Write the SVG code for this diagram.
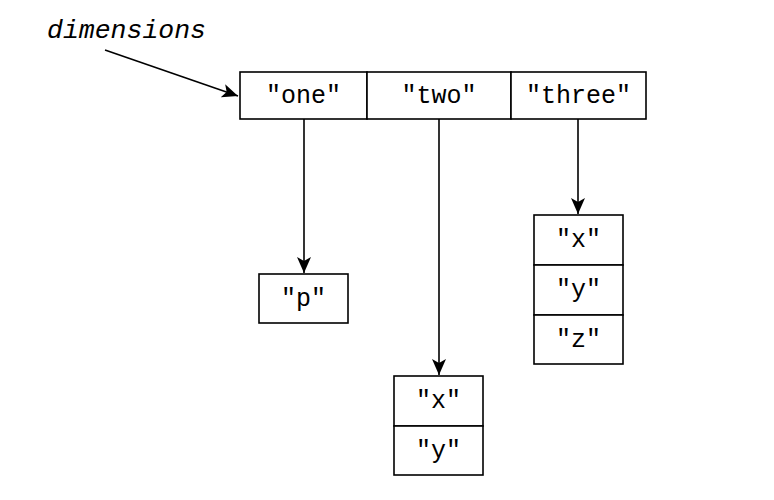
<svg xmlns="http://www.w3.org/2000/svg" width="774" height="500" viewBox="0 0 774 500">
<style>
.box{fill:#fff;stroke:#000;stroke-width:1.6}
.t{font-family:"Liberation Mono",monospace;font-size:25px;text-anchor:middle;fill:#000}
.lbl{font-family:"Liberation Mono",monospace;font-size:26.5px;font-style:italic;fill:#000}
.c{stroke:#000;stroke-width:1.6;fill:none;marker-end:url(#ah)}
</style>
<defs>
<marker id="ah" markerUnits="userSpaceOnUse" markerWidth="18" markerHeight="14" refX="16" refY="7" orient="auto">
<path d="M0,0 L16,7 L0,14 L4,7 Z" fill="#000"/>
</marker>
</defs>
<rect width="774" height="500" fill="#fff"/>
<g id="label-dimensions"><text class="lbl" x="47" y="38">dimensions</text></g>
<g id="array-top">
<rect class="box" x="240" y="72" width="127" height="47"/>
<text class="t" x="303.5" y="103">"one"</text>
<rect class="box" x="367" y="72" width="144" height="47"/>
<text class="t" x="439" y="103">"two"</text>
<rect class="box" x="511" y="72" width="135" height="47"/>
<text class="t" x="578.5" y="103">"three"</text>
</g>
<g id="array-one">
<rect class="box" x="259" y="274" width="89" height="49"/>
<text class="t" x="303.5" y="306">"p"</text>
</g>
<g id="array-two">
<rect class="box" x="394" y="376" width="89" height="50"/>
<text class="t" x="438.5" y="408">"x"</text>
<rect class="box" x="394" y="426" width="89" height="49"/>
<text class="t" x="438.5" y="458">"y"</text>
</g>
<g id="array-three">
<rect class="box" x="534" y="215" width="89" height="50"/>
<text class="t" x="578.5" y="247">"x"</text>
<rect class="box" x="534" y="265" width="89" height="50"/>
<text class="t" x="578.5" y="297">"y"</text>
<rect class="box" x="534" y="315" width="89" height="49"/>
<text class="t" x="578.5" y="347">"z"</text>
</g>
<g id="connectors">
<line class="c" x1="105" y1="50" x2="238" y2="96"/>
<line class="c" x1="304" y1="119" x2="304" y2="273"/>
<line class="c" x1="439" y1="119" x2="439" y2="375"/>
<line class="c" x1="578" y1="119" x2="578" y2="214"/>
</g>
</svg>
